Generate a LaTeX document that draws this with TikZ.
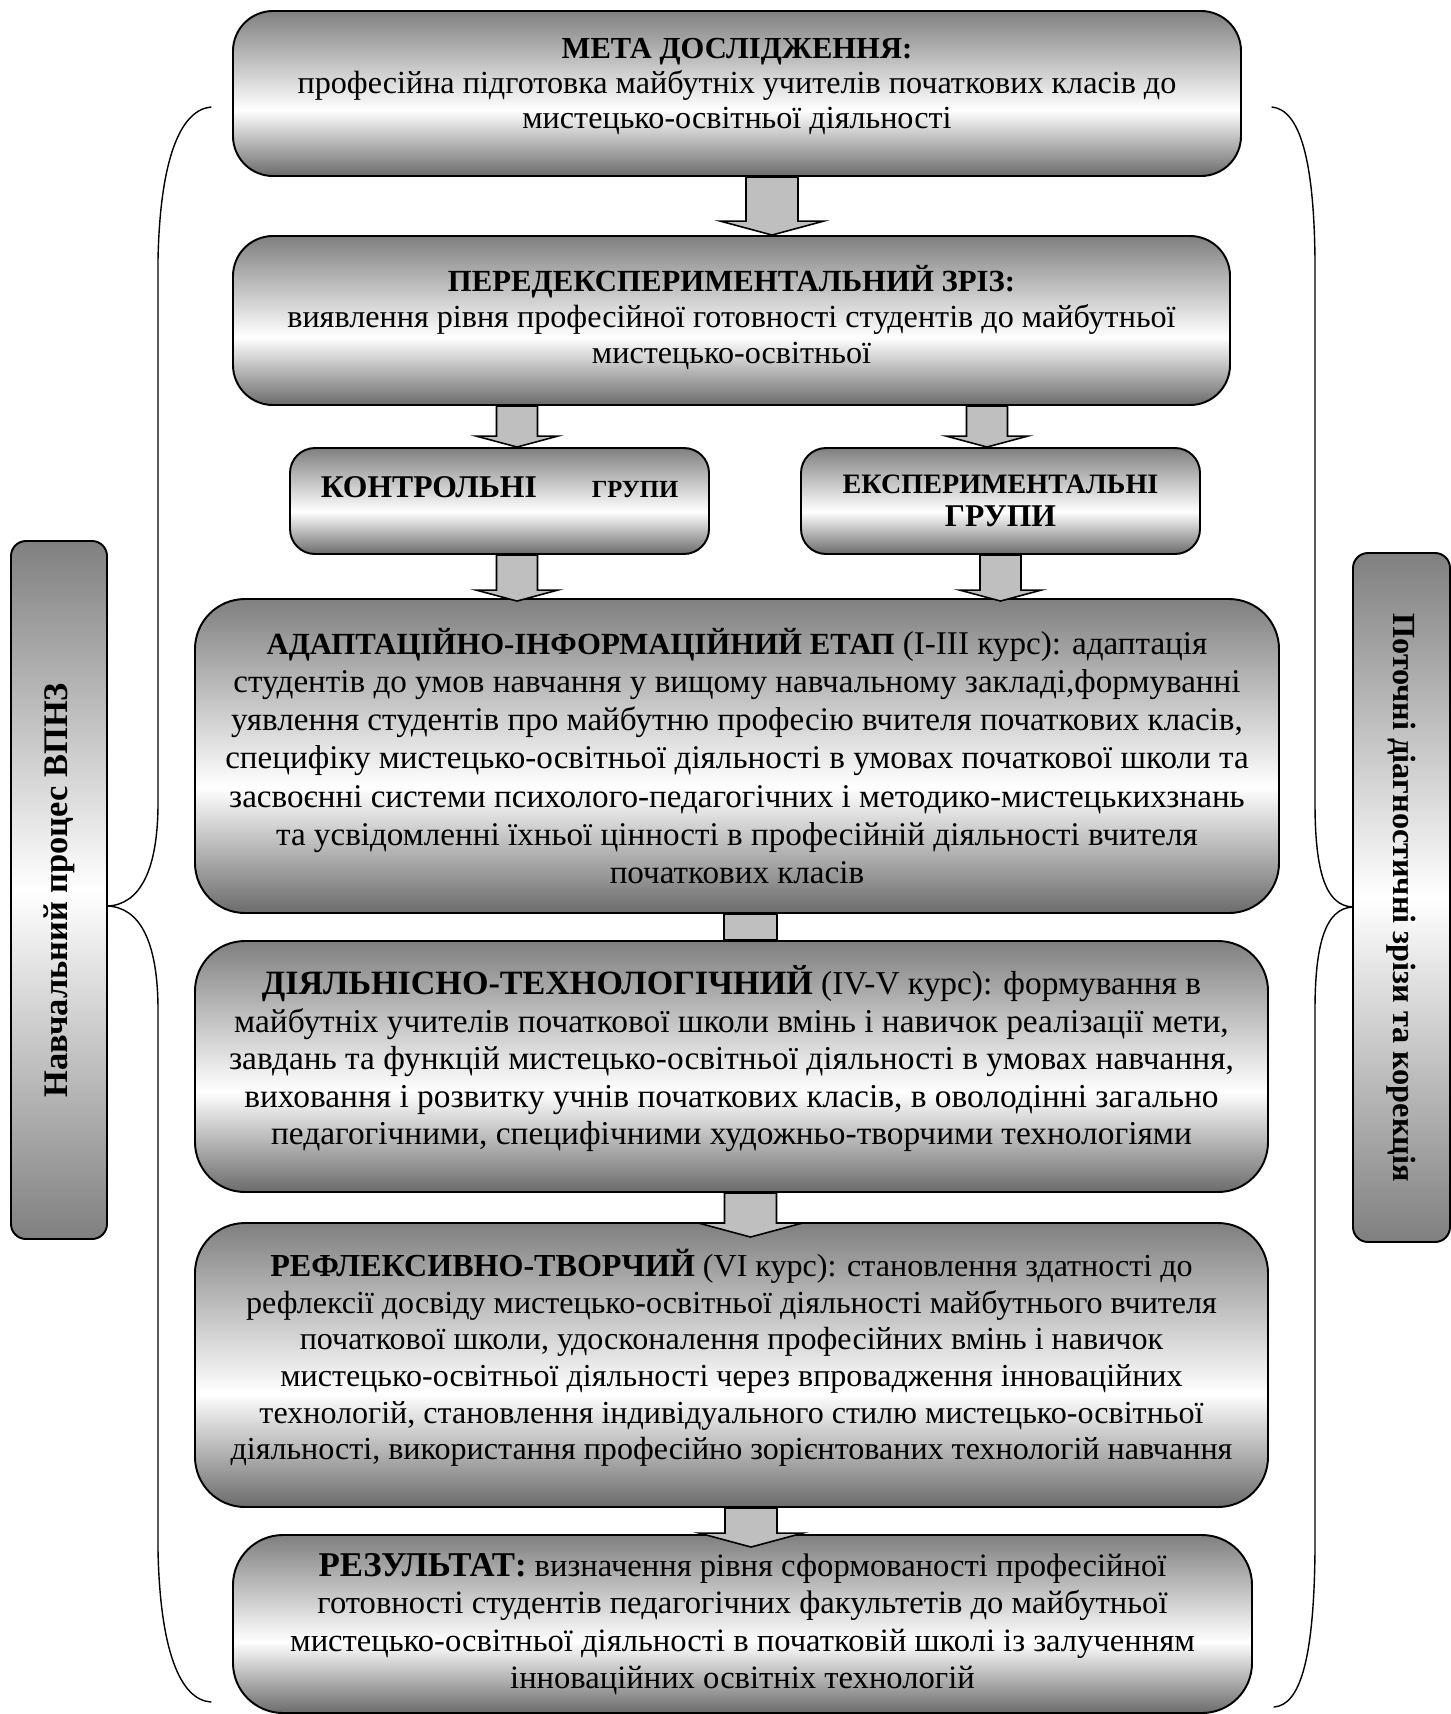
\documentclass[tikz,border=0pt]{standalone}
\usepackage{fontspec}
\setmainfont{Liberation Serif}
\usetikzlibrary{calc}
\pgfdeclareverticalshading{prshade}{100bp}{color(0bp)=(black!58); color(25bp)=(black!58); color(45bp)=(white); color(75bp)=(black!50); color(100bp)=(black!50)}
\tikzset{
  prbox/.style={draw=black, line width=1.1pt, rounded corners=0.8cm, shading=prshade, align=center, inner sep=0pt, font=\fontsize{18.3}{20}\selectfont},
  prstage/.style={prbox, rounded corners=1cm},
  prgroup/.style={prbox, rounded corners=0.5cm, font=\fontsize{18}{19}\selectfont\bfseries},
  prside/.style={prbox, rounded corners=0.3cm, top color=black!50, bottom color=black!50, middle color=white},
  prfill/.style={draw=black, fill=black!25, line width=0.9pt, line join=miter},
  prsmall/.style={prfill, to path={let \p1=(\tikztostart), \p2=(\tikztotarget) in (\x1-0.41cm,\y1) -- (\x1-0.41cm,\y2+0.22cm) -- (\x1-0.82cm,\y2+0.22cm) -- (\x1,\y2) -- (\x1+0.82cm,\y2+0.22cm) -- (\x1+0.41cm,\y2+0.22cm) -- (\x1+0.41cm,\y1) -- cycle}},
  prbig/.style={prfill, to path={let \p1=(\tikztostart), \p2=(\tikztotarget) in (\x1-0.52cm,\y1) -- (\x1-0.52cm,\y2+0.28cm) -- (\x1-1.04cm,\y2+0.28cm) -- (\x1,\y2) -- (\x1+1.04cm,\y2+0.28cm) -- (\x1+0.52cm,\y2+0.28cm) -- (\x1+0.52cm,\y1) -- cycle}},
  prbrace/.style={line width=0.8pt, draw=black, line cap=round},
}
\begin{document}
\begin{tikzpicture}
\useasboundingbox (0,0) rectangle (29.020,-34.280);
\draw[prbrace] (4.220,-2.140) .. controls (3.600,-2.200) and (3.200,-3.200) .. (3.160,-5.200) -- (3.160,-16.060) .. controls (3.160,-17.400) and (2.800,-18.100) .. (2.140,-18.120) .. controls (2.800,-18.140) and (3.160,-18.840) .. (3.160,-20.200) -- (3.160,-31.000) .. controls (3.200,-33.000) and (3.600,-34.000) .. (4.220,-34.040);
\draw[prbrace] (25.440,-2.140) .. controls (26.000,-2.200) and (26.280,-3.200) .. (26.300,-5.200) -- (26.300,-16.060) .. controls (26.300,-17.400) and (26.500,-18.120) .. (27.060,-18.140) .. controls (26.500,-18.160) and (26.300,-18.900) .. (26.300,-20.200) -- (26.300,-31.000) .. controls (26.280,-33.200) and (26.000,-34.100) .. (25.480,-34.140);
\node[prbox, minimum width=20.160cm, minimum height=3.300cm, text depth=0.40cm, font=\fontsize{18.3}{20}\selectfont] (meta) at (14.740,-1.870) {{\fontsize{17.4}{20}\selectfont\bfseries МЕТА ДОСЛІДЖЕННЯ:}\\професійна підготовка майбутніх учителів початкових класів до\\мистецько-освітньої діяльності};
\node[prbox, minimum width=19.940cm, minimum height=3.380cm, text depth=0.25cm, font=\fontsize{18.3}{20.3}\selectfont] (zriz) at (14.630,-6.410) {{\fontsize{17.5}{20}\selectfont\bfseries ПЕРЕДЕКСПЕРИМЕНТАЛЬНИЙ ЗРІЗ:}\\виявлення рівня професійної готовності студентів до майбутньої\\мистецько-освітньої};
\node[prgroup, minimum width=8.380cm, minimum height=2.120cm, text depth=0.55cm] (kontr) at (9.990,-10.020) {КОНТРОЛЬНІ\hspace{1.1cm}{\fontsize{14}{17}\selectfont ГРУПИ}};
\node[prgroup, minimum width=7.980cm, minimum height=2.120cm] (eksp) at (20.010,-10.020) {{\fontsize{16}{19}\selectfont ЕКСПЕРИМЕНТАЛЬНІ}\\ГРУПИ};
\node[prstage, minimum width=21.680cm, minimum height=6.280cm, font=\fontsize{18.85}{21.8}\selectfont] (adapt) at (14.740,-15.120) {{\fontsize{17.5}{21.8}\selectfont\bfseries АДАПТАЦІЙНО-ІНФОРМАЦІЙНИЙ ЕТАП} (I-III курс): адаптація\\студентів до умов навчання у вищому навчальному закладі,формуванні\\уявлення студентів про майбутню професію вчителя початкових класів,\\специфіку мистецько-освітньої діяльності в умовах початкової школи та\\засвоєнні системи психолого-педагогічних і методико-мистецькихзнань\\та усвідомленні їхньої цінності в професійній діяльності вчителя\\початкових класів};
\node[prstage, minimum width=21.460cm, minimum height=5.020cm, text depth=0.45cm, font=\fontsize{19}{21.3}\selectfont] (diyal) at (14.630,-21.330) {{\fontsize{19.4}{21.3}\selectfont\bfseries ДІЯЛЬНІСНО-ТЕХНОЛОГІЧНИЙ} (IV-V курс): формування в\\майбутніх учителів початкової школи вмінь і навичок реалізації мети,\\завдань та функцій мистецько-освітньої діяльності в умовах навчання,\\виховання і розвитку учнів початкових класів, в оволодінні загально\\педагогічними, специфічними художньо-творчими технологіями};
\node[prstage, minimum width=21.460cm, minimum height=5.680cm, text depth=0.42cm, font=\fontsize{18.25}{20.9}\selectfont] (refl) at (14.630,-27.300) {\textbf{РЕФЛЕКСИВНО-ТВОРЧИЙ} (VI курс): становлення здатності до\\рефлексії досвіду мистецько-освітньої діяльності майбутнього вчителя\\початкової школи, удосконалення професійних вмінь і навичок\\мистецько-освітньої діяльності через впровадження інноваційних\\технологій, становлення індивідуального стилю мистецько-освітньої\\діяльності, використання професійно зорієнтованих технологій навчання};
\node[prstage, minimum width=20.380cm, minimum height=3.560cm, font=\fontsize{18.55}{21.2}\selectfont] (rez) at (14.850,-32.480) {{\fontsize{19.8}{21.2}\selectfont\bfseries РЕЗУЛЬТАТ:} визначення рівня сформованості професійної\\готовності студентів педагогічних факультетів до майбутньої\\мистецько-освітньої діяльності в початковій школі із залученням\\інноваційних освітніх технологій};
\node[prside, rotate=90, minimum width=13.960cm, minimum height=1.920cm, font=\fontsize{19.6}{23}\selectfont\bfseries] (navch) at (1.180,-17.800) {Навчальний процес ВПНЗ};
\node[prside, rotate=-90, minimum width=13.780cm, minimum height=1.940cm, font=\fontsize{18.35}{22}\selectfont\bfseries] (potoch) at (28.030,-17.950) {Поточні діагностичні зрізи та корекція};
\draw[prbig] ($(meta.south)+(0.700,0)$) to (zriz.north);
\draw[prsmall] ($(kontr.north|-zriz.south)+(0.350,0)$) to (kontr.north);
\draw[prsmall] ($(eksp.north|-zriz.south)+(-0.270,0)$) to (eksp.north);
\draw[prsmall] ($(kontr.south)+(0.350,0)$) to ($(adapt.north)+(0,-0.060)$);
\draw[prsmall] (eksp.south) to ($(adapt.north)+(0,-0.060)$);
\draw[prfill] ($(adapt.south)+(-0.260,0)$) rectangle ($(diyal.north)+(0.910,0)$);
\draw[prbig] ($(diyal.south)+(0.380,0)$) to ($(refl.north)+(0,-0.300)$);
\draw[prbig] ($(refl.south)+(0.390,0)$) to ($(rez.north)+(0,-0.260)$);
\end{tikzpicture}
\end{document}
